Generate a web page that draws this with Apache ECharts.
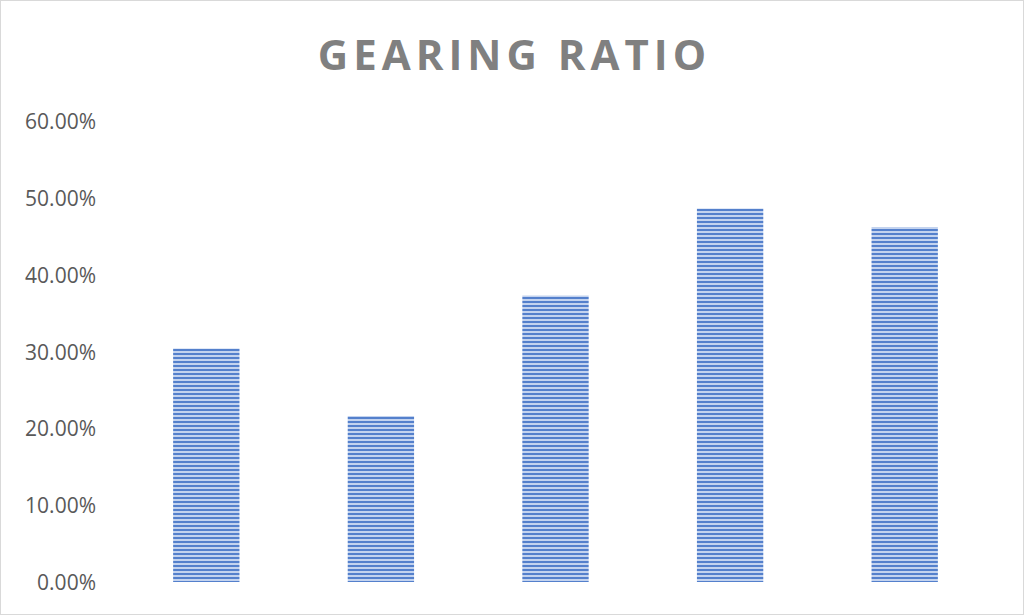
<!DOCTYPE html>
<html><head><meta charset="utf-8">
<script src="https://cdn.jsdelivr.net/npm/echarts@6/dist/echarts.min.js"></script>
<style>
html,body{margin:0;padding:0;background:#fff;}
#wrap{width:1022px;height:613px;border:1px solid #d9d9d9;}
#chart{width:1022px;height:613px;}
</style></head>
<body><div id="wrap"><div id="chart"></div></div>
<script>
const titleText = 'GEARING RATIO';
const categories = ['Year 1', 'Year 2', 'Year 3', 'Year 4', 'Year 5'];
const gearingRatio = [0.304, 0.216, 0.373, 0.486, 0.462];
const yTicks = [0, 0.1, 0.2, 0.3, 0.4, 0.5, 0.6];

const stripeSvg = 'data:image/svg+xml;utf8,' + encodeURIComponent(
  '<svg xmlns="http://www.w3.org/2000/svg" width="4" height="4">' +
  '<rect width="4" height="4" fill="#c3d3ef"/><rect width="4" height="2" fill="#5480cc"/></svg>');
const stripeImg = new Image();
stripeImg.src = stripeSvg;

const chartEl = document.getElementById('chart');
const chart = echarts.init(chartEl, null, { renderer: 'svg' });
function render() {
  chart.setOption({
    animation: false,
    title: {
      text: titleText,
      left: 'center',
      top: 26,
      textStyle: { fontFamily: 'Open Sans', fontWeight: 'bold', fontSize: 42, color: '#808080' }
    },
    grid: { left: 118, right: 31, top: 120, bottom: 32 },
    xAxis: {
      type: 'category',
      data: categories,
      axisLine: { show: false },
      axisTick: { show: false },
      axisLabel: { show: false }
    },
    yAxis: {
      type: 'value',
      min: yTicks[0],
      max: yTicks[yTicks.length - 1],
      interval: 0.1,
      splitLine: { show: false },
      axisLine: { show: false },
      axisTick: { show: false },
      axisLabel: {
        margin: 23,
        fontFamily: 'Open Sans',
        fontSize: 21,
        color: '#595959',
        padding: [0, 0, 6, 0],
        formatter: v => (v * 100).toFixed(2) + '%'
      }
    },
    series: [{
      type: 'bar',
      data: gearingRatio,
      barWidth: '38%',
      itemStyle: { color: { image: stripeImg, repeat: 'repeat' } }
    }]
  });
  // widen the title's letter spacing like the original, then re-centre it
  const box = chartEl.getBoundingClientRect();
  chartEl.querySelectorAll('text').forEach(t => {
    if (t.textContent === titleText) {
      t.setAttribute('letter-spacing', '5px');
      const r = t.getBoundingClientRect();
      const centre = r.left - box.left + (r.width - 5) / 2;
      const dx = box.width / 2 - centre;
      const x = parseFloat(t.getAttribute('x') || '0');
      t.setAttribute('x', String(x + dx));
    }
  });
}
render();
stripeImg.onload = render;
</script></body></html>
